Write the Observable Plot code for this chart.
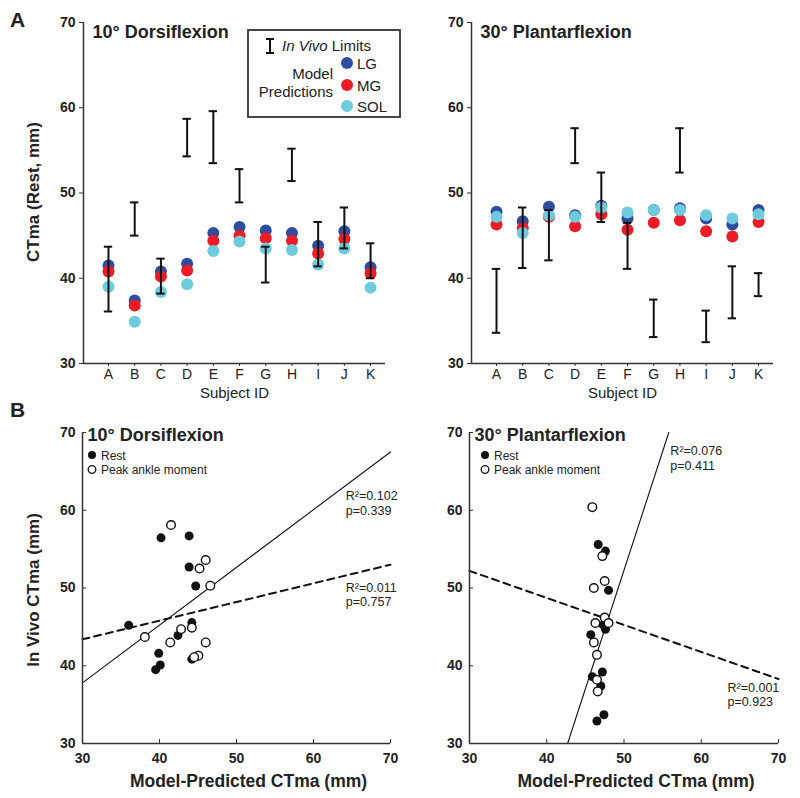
<!DOCTYPE html>
<html><head><meta charset="utf-8">
<script src="https://cdn.jsdelivr.net/npm/d3@7"></script>
<script src="https://cdn.jsdelivr.net/npm/@observablehq/plot@0.6"></script>
<style>
body{margin:0;background:#fff;}
#wrap{position:relative;width:800px;height:798px;background:#fff;font-family:"Liberation Sans",Arial,sans-serif;color:#222;}
#wrap > svg{position:absolute;}
</style></head>
<body><div id="wrap"></div>
<script>
// ---------- data ----------
const subjects = ["A","B","C","D","E","F","G","H","I","J","K"];
const muscles = ["LG","MG","SOL"];
const muscleColors = ["#2f4c9f","#ec1c26","#6dcbdd"];

// Panel A: 10° Dorsiflexion
const dorsiVivoLow  = [36.1, 45.0, 38.2, 54.3, 53.5, 48.9, 39.5, 51.4, 41.4, 43.5, 40.0];
const dorsiVivoHigh = [43.7, 48.9, 42.3, 58.7, 59.6, 52.8, 43.7, 55.2, 46.6, 48.3, 44.1];
const dorsiLG  = [41.5, 37.4, 40.8, 41.7, 45.3, 46.0, 45.6, 45.3, 43.8, 45.5, 41.3];
const dorsiMG  = [40.8, 36.8, 40.2, 40.9, 44.4, 45.0, 44.7, 44.4, 42.9, 44.6, 40.6];
const dorsiSOL = [39.0, 34.9, 38.4, 39.3, 43.2, 44.3, 43.5, 43.3, 41.6, 43.5, 38.9];

// Panel A: 30° Plantarflexion
const plantarVivoLow  = [33.6, 41.2, 42.1, 53.5, 46.6, 41.1, 33.1, 52.4, 32.5, 35.3, 37.9];
const plantarVivoHigh = [41.1, 48.3, 48.0, 57.6, 52.4, 46.5, 37.5, 57.6, 36.2, 41.4, 40.6];
const plantarLG  = [47.8, 46.7, 48.4, 47.4, 48.5, 47.0, 48.0, 48.2, 47.0, 46.3, 48.0];
const plantarMG  = [46.3, 45.9, 47.2, 46.1, 47.5, 45.7, 46.5, 46.8, 45.5, 44.9, 46.6];
const plantarSOL = [47.2, 45.3, 47.4, 47.2, 48.3, 47.7, 48.0, 48.0, 47.4, 47.0, 47.5];

// Panel B: model-predicted (x) vs in vivo (y)
const dorsiRestModel = [40.2, 43.85, 43.85, 44.7, 36.0, 44.2, 42.4, 39.9, 40.1, 39.5, 44.2];
const dorsiRestVivo  = [56.45, 56.7, 52.7, 50.25, 45.2, 45.55, 43.9, 41.6, 40.1, 39.5, 40.85];
const dorsiPeakModel = [41.5, 46.0, 45.2, 46.6, 38.1, 42.8, 44.2, 41.4, 46.0, 45.05, 44.5];
const dorsiPeakVivo  = [58.1, 53.6, 52.5, 50.3, 43.7, 44.7, 44.9, 43.0, 43.0, 41.3, 41.1];
const plantarRestModel = [46.66, 47.6, 48.0, 47.3, 47.6, 45.7, 45.9, 47.2, 47.0, 46.5, 47.4];
const plantarRestVivo  = [55.6, 54.75, 49.7, 45.25, 44.7, 44.0, 38.6, 39.2, 37.4, 32.9, 33.7];
const plantarPeakModel = [45.9, 47.2, 46.1, 47.5, 47.5, 46.3, 48.0, 46.1, 46.5, 46.5, 46.6];
const plantarPeakVivo  = [60.4, 54.1, 50.0, 50.9, 46.2, 45.5, 45.5, 43.0, 41.4, 38.2, 36.7];

// regression fit endpoints
const dorsiSolidX = [30, 70], dorsiSolidY = [37.8, 67.5];
const dorsiDashX  = [30, 70], dorsiDashY  = [43.4, 53.0];
const plantarSolidX = [42.7, 55.8], plantarSolidY = [30, 70];
const plantarDashX  = [30, 70], plantarDashY  = [52.2, 38.3];

// statistics annotations
const dorsiStatText = ["R²=0.102", "p=0.339", "R²=0.011", "p=0.757"];
const dorsiStatX = [64.2, 64.2, 64.2, 64.2];
const dorsiStatY = [61.8, 59.95, 50.0, 48.15];
const plantarStatText = ["R²=0.076", "p=0.411", "R²=0.001", "p=0.923"];
const plantarStatX = [56.0, 56.0, 63.4, 63.4];
const plantarStatY = [67.6, 65.75, 37.2, 35.35];

const axisTicks = [30, 40, 50, 60, 70];

// ---------- drawing ----------
const FONT = '"Liberation Sans", Arial, sans-serif';
const wrap = document.getElementById("wrap");
function place(node, left, top) {
  node.style.position = "absolute";
  node.style.left = left + "px";
  node.style.top = top + "px";
  wrap.appendChild(node);
}

function panelA({title, low, high, lg, mg, sol, mLeft, mRight}) {
  const xmin = -0.954, xmax = 10.57;
  const rows = subjects.map((s, i) => ({i, s, low: low[i], high: high[i]}));
  const vals = [lg, mg, sol];
  const pts = subjects.flatMap((s, i) => muscles.map((m, k) => ({i, m, v: vals[k][i]})));
  return Plot.plot({
    width: 400, height: 400,
    marginLeft: mLeft, marginRight: mRight, marginTop: 22, marginBottom: 37,
    style: {fontFamily: FONT, fontSize: "14px", fontWeight: "bold", color: "#222", background: "transparent", overflow: "visible"},
    x: {domain: [xmin, xmax]},
    y: {domain: [30, 70]},
    color: {domain: muscles, range: muscleColors},
    marks: [
      Plot.dot(pts, {x: "i", y: "v", r: 6, fill: "m"}),
      Plot.ruleX(rows, {x: "i", y1: "low", y2: "high", stroke: "#111", strokeWidth: 2}),
      Plot.ruleY(rows, {y: "low", x1: d => d.i - 0.16, x2: d => d.i + 0.16, stroke: "#111", strokeWidth: 2}),
      Plot.ruleY(rows, {y: "high", x1: d => d.i - 0.16, x2: d => d.i + 0.16, stroke: "#111", strokeWidth: 2}),
      Plot.ruleY([30], {stroke: "#333", strokeWidth: 1.5}),
      Plot.ruleX([xmin], {stroke: "#333", strokeWidth: 1.5}),
      Plot.axisY({ticks: axisTicks, tickSize: 4, tickPadding: 4, label: null, stroke: "#333"}),
      Plot.axisX({ticks: d3.range(subjects.length), tickFormat: i => subjects[i], tickSize: 3, tickPadding: 3, label: null, fontWeight: "normal", stroke: "#333"}),
      Plot.text([title], {frameAnchor: "top-left", textAnchor: "start", lineAnchor: "middle", dx: 9, dy: 10, fontSize: 18, fontWeight: "bold", fill: "#222"}),
      Plot.text(["Subject ID"], {frameAnchor: "bottom", lineAnchor: "middle", dy: 30, fontSize: 15, fontWeight: "normal", fill: "#222"})
    ]
  });
}

function panelB({title, restX, restY, peakX, peakY, solidX, solidY, dashX, dashY, statText, statX, statY, mLeft, mRight}) {
  const rest = restX.map((x, i) => ({x, y: restY[i]}));
  const peak = peakX.map((x, i) => ({x, y: peakY[i]}));
  const solid = solidX.map((x, i) => ({x, y: solidY[i]}));
  const dash = dashX.map((x, i) => ({x, y: dashY[i]}));
  const stats = statText.map((t, i) => ({t, x: statX[i], y: statY[i]}));
  return Plot.plot({
    width: 400, height: 398,
    marginLeft: mLeft, marginRight: mRight, marginTop: 32, marginBottom: 55,
    style: {fontFamily: FONT, fontSize: "14px", fontWeight: "bold", color: "#222", background: "transparent", overflow: "visible"},
    x: {domain: [30, 70]},
    y: {domain: [30, 70]},
    marks: [
      Plot.line(solid, {x: "x", y: "y", stroke: "#111", strokeWidth: 1.1}),
      Plot.line(dash, {x: "x", y: "y", stroke: "#111", strokeWidth: 2, strokeDasharray: "7,5"}),
      Plot.dot(rest, {x: "x", y: "y", r: 4.5, fill: "#111", stroke: null}),
      Plot.dot(peak, {x: "x", y: "y", r: 4.3, fill: "white", stroke: "#111", strokeWidth: 1.4}),
      Plot.ruleY([30], {stroke: "#333", strokeWidth: 1.5}),
      Plot.ruleX([30], {stroke: "#333", strokeWidth: 1.5}),
      Plot.axisY({ticks: axisTicks, tickSize: -4, tickPadding: 11, label: null, stroke: "#333"}),
      Plot.axisX({ticks: axisTicks, tickSize: -4, tickPadding: 14, label: null, stroke: "#333"}),
      Plot.text(stats, {x: "x", y: "y", text: "t", textAnchor: "start", fontSize: 12.5, fontWeight: "normal", fill: "#222"}),
      Plot.text([title], {frameAnchor: "top-left", textAnchor: "start", lineAnchor: "middle", dx: 5, dy: 3, fontSize: 18, fontWeight: "bold", fill: "#222"}),
      Plot.text(["Model-Predicted CTma (mm)"], {frameAnchor: "bottom", lineAnchor: "middle", dx: 12, dy: 38, fontSize: 17.5, fontWeight: "bold", fill: "#222", letterSpacing: "0.7px"})
    ]
  });
}

place(panelA({title: "10° Dorsiflexion", low: dorsiVivoLow, high: dorsiVivoHigh, lg: dorsiLG, mg: dorsiMG, sol: dorsiSOL, mLeft: 83, mRight: 15}), 0, 0);
place(panelA({title: "30° Plantarflexion", low: plantarVivoLow, high: plantarVivoHigh, lg: plantarLG, mg: plantarMG, sol: plantarSOL, mLeft: 71, mRight: 27}), 400, 0);
place(panelB({title: "10° Dorsiflexion", restX: dorsiRestModel, restY: dorsiRestVivo, peakX: dorsiPeakModel, peakY: dorsiPeakVivo,
  solidX: dorsiSolidX, solidY: dorsiSolidY, dashX: dorsiDashX, dashY: dorsiDashY,
  statText: dorsiStatText, statX: dorsiStatX, statY: dorsiStatY, mLeft: 82, mRight: 10}), 0, 400);
place(panelB({title: "30° Plantarflexion", restX: plantarRestModel, restY: plantarRestVivo, peakX: plantarPeakModel, peakY: plantarPeakVivo,
  solidX: plantarSolidX, solidY: plantarSolidY, dashX: plantarDashX, dashY: plantarDashY,
  statText: plantarStatText, statX: plantarStatX, statY: plantarStatY, mLeft: 69, mRight: 22}), 400, 400);

// ---------- overlay: panel letters, axis titles, legends ----------
const ov = d3.create("svg").attr("width", 800).attr("height", 798)
  .style("left", "0px").style("top", "0px").style("pointer-events", "none")
  .style("font-family", FONT).style("overflow", "visible");

ov.append("text").attr("x", 10).attr("y", 27).attr("font-size", 21).attr("font-weight", "bold").attr("fill", "#222").text("A");
ov.append("text").attr("x", 10).attr("y", 417).attr("font-size", 21).attr("font-weight", "bold").attr("fill", "#222").text("B");

ov.append("text").attr("transform", "translate(39,192) rotate(-90)").attr("text-anchor", "middle")
  .attr("font-size", 17).attr("font-weight", "bold").attr("fill", "#222").text("CTma (Rest, mm)");
ov.append("text").attr("transform", "translate(39,590) rotate(-90)").attr("text-anchor", "middle")
  .attr("font-size", 17).attr("font-weight", "bold").attr("fill", "#222").text("In Vivo CTma (mm)");

// legend A
const lg = ov.append("g");
lg.append("rect").attr("x", 248).attr("y", 30).attr("width", 152).attr("height", 87)
  .attr("fill", "white").attr("stroke", "#333").attr("stroke-width", 1.8);
lg.append("line").attr("x1", 270).attr("x2", 270).attr("y1", 39).attr("y2", 53).attr("stroke", "#111").attr("stroke-width", 2);
lg.append("line").attr("x1", 266).attr("x2", 274).attr("y1", 39).attr("y2", 39).attr("stroke", "#111").attr("stroke-width", 2);
lg.append("line").attr("x1", 266).attr("x2", 274).attr("y1", 53).attr("y2", 53).attr("stroke", "#111").attr("stroke-width", 2);
const t1 = lg.append("text").attr("x", 282).attr("y", 51).attr("font-size", 15).attr("fill", "#222");
t1.append("tspan").attr("font-style", "italic").text("In Vivo");
t1.append("tspan").text(" Limits");
lg.append("text").attr("x", 333).attr("y", 79).attr("text-anchor", "end").attr("font-size", 15).attr("fill", "#222").text("Model");
lg.append("text").attr("x", 333).attr("y", 97).attr("text-anchor", "end").attr("font-size", 15).attr("fill", "#222").text("Predictions");
const legY = [63, 85, 106];
muscles.forEach((m, k) => {
  lg.append("circle").attr("cx", 347).attr("cy", legY[k]).attr("r", 6).attr("fill", muscleColors[k]);
  lg.append("text").attr("x", 357).attr("y", legY[k] + 5.5).attr("font-size", 15).attr("fill", "#222").text(m);
});

// legends B
[[92, 101], [485, 494]].forEach(([cx, tx]) => {
  ov.append("circle").attr("cx", cx).attr("cy", 455).attr("r", 4).attr("fill", "#111");
  ov.append("circle").attr("cx", cx).attr("cy", 469.5).attr("r", 3.8).attr("fill", "white").attr("stroke", "#111").attr("stroke-width", 1.3);
  ov.append("text").attr("x", tx).attr("y", 459.5).attr("font-size", 12).attr("fill", "#222").text("Rest");
  ov.append("text").attr("x", tx).attr("y", 474).attr("font-size", 12).attr("fill", "#222").text("Peak ankle moment");
});

wrap.appendChild(ov.node());
</script>
</body></html>
